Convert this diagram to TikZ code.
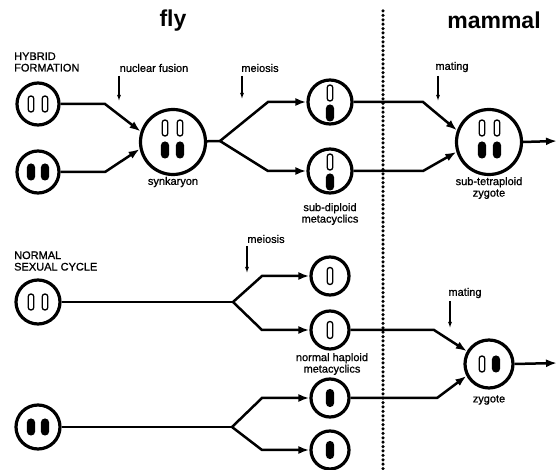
\documentclass[tikz,border=0pt]{standalone}
\usepackage{fontspec}
\setmainfont{Liberation Sans}
\newfontfamily\lblfont{Liberation Sans}[FakeBold=0.9]
\usetikzlibrary{arrows.meta}
\begin{document}
\begin{tikzpicture}[x=1pt,y=-1pt,
  cell/.style={circle, draw, line width=3.2pt, inner sep=0pt, minimum size=#1},
  chrO/.style={draw, line width=1.3pt, rectangle, rounded corners=2.7pt, inner sep=0pt, minimum width=5.6pt, minimum height=#1},
  chrF/.style={fill, rectangle, rounded corners=3.9pt, inner sep=0pt, minimum width=8.2pt, minimum height=#1},
  conn/.style={line width=2.5pt, line join=miter},
  tip/.style={-{Latex[length=11pt,width=8pt]}},
  note/.style={line width=1.1pt, -{Latex[length=6pt,width=4pt]}},
  lbl/.style={font=\lblfont\fontsize{11}{11.5}\selectfont, align=center, inner sep=0pt},
  ttl/.style={font=\fontsize{23}{24}\selectfont\bfseries, inner sep=0pt}
]
\useasboundingbox (0,0) rectangle (558,470);

% titles
\node[ttl] (tfly) at (173,21) {fly};
\node[ttl] (tmam) at (494,20) {mammal};

% divider
\coordinate (dtop) at (383,11);
\coordinate (dbot) at (383,470);
\foreach \yy in {11,15.4,...,470} \fill (383,\yy) circle (1.75pt);

% ---------- hybrid formation ----------
\node[lbl, align=left, anchor=west] (hyb) at (14,62) {HYBRID\\FORMATION};
\node[lbl] (nf) at (154,68) {nuclear fusion};
\node[lbl] (me1) at (260,68) {meiosis};
\node[lbl] (ma1) at (452,67) {mating};
\coordinate (nfa) at (119,76); \coordinate (nfb) at (119,101);
\coordinate (m1a) at (242,76); \coordinate (m1b) at (242,99);
\coordinate (ma1a) at (438,76); \coordinate (ma1b) at (438,101);
\draw[note] (nfa) -- (nfb);
\draw[note] (m1a) -- (m1b);
\draw[note] (ma1a) -- (ma1b);

\node[cell=42pt] (A1) at (38,104) {};
\node[chrO=16pt] (a1l) at (31,104) {};
\node[chrO=16pt] (a1r) at (45,104) {};

\node[cell=42pt] (A2) at (38,172) {};
\node[chrF=17pt] (a2l) at (31,172) {};
\node[chrF=17pt] (a2r) at (45,172) {};

\node[cell=65pt] (syn) at (173,142) {};
\node[chrO=16pt] (sy1) at (165,128) {};
\node[chrO=16pt] (sy2) at (180,128) {};
\node[chrF=17pt] (sy3) at (165,150) {};
\node[chrF=17pt] (sy4) at (180,150) {};
\node[lbl] (synl) at (173,182) {synkaryon};

\node[cell=44pt] (B1) at (330,102) {};
\node[chrO=16pt] (b1o) at (330,93) {};
\node[chrF=17pt] (b1f) at (330,113) {};

\node[cell=44pt] (B2) at (330,171) {};
\node[chrO=16pt] (b2o) at (330,162) {};
\node[chrF=17pt] (b2f) at (330,182) {};
\node[lbl] (sdl) at (330,214) {sub-diploid\\metacyclics};

\node[cell=65pt] (Z1) at (489,142) {};
\node[chrO=16pt] (z1a) at (482,128) {};
\node[chrO=16pt] (z1b) at (497,128) {};
\node[chrF=17pt] (z1c) at (482,150) {};
\node[chrF=17pt] (z1d) at (497,150) {};
\node[lbl] (stl) at (489,188) {sub-tetraploid\\zygote};
\coordinate (z1out) at (557,141);

\draw[conn,tip] (A1) -- (105,104) -- (syn.162);
\draw[conn,tip] (A2) -- (105,172) -- (syn.192);
\draw[conn] (syn) -- (220,141);
\draw[conn,tip] (220,141) -- (268,102) -- (B1);
\draw[conn,tip] (220,141) -- (268,171) -- (B2);
\draw[conn,tip] (B1) -- (423,102) -- (Z1.160);
\draw[conn,tip] (B2) -- (423,171) -- (Z1.197);
\draw[conn,tip] (Z1.east) -- (z1out);

% ---------- normal sexual cycle ----------
\node[lbl, align=left, anchor=west] (nsc) at (14,261) {NORMAL\\SEXUAL CYCLE};
\node[lbl] (me2) at (266,239) {meiosis};
\node[lbl] (ma2) at (465,293) {mating};
\coordinate (m2a) at (247,246); \coordinate (m2b) at (247,273);
\coordinate (ma2a) at (450,301); \coordinate (ma2b) at (450,328);
\draw[note] (m2a) -- (m2b);
\draw[note] (ma2a) -- (ma2b);

\node[cell=44pt] (C1) at (38,302) {};
\node[chrO=16pt] (c1l) at (31,302) {};
\node[chrO=16pt] (c1r) at (45,302) {};

\node[cell=44pt] (C2) at (38,427) {};
\node[chrF=17pt] (c2l) at (31,427) {};
\node[chrF=17pt] (c2r) at (45,427) {};

\node[cell=38pt] (D1) at (330,276) {};
\node[chrO=17pt] (d1c) at (330,276) {};
\node[cell=38pt] (D2) at (330,330) {};
\node[chrO=17pt] (d2c) at (330,330) {};
\node[lbl] (nhl) at (332,364) {normal haploid\\metacyclics};
\node[cell=38pt] (D3) at (330,398) {};
\node[chrF=18pt] (d3c) at (330,398) {};
\node[cell=38pt] (D4) at (330,450) {};
\node[chrF=18pt] (d4c) at (330,450) {};

\node[cell=48pt] (Z2) at (489,364) {};
\node[chrO=16pt] (z2a) at (482,364) {};
\node[chrF=17pt] (z2b) at (496,364) {};
\node[lbl] (zyl) at (489,400) {zygote};
\coordinate (z2out) at (557,363);

\draw[conn] (C1) -- (233,302);
\draw[conn,tip] (233,302) -- (262,276) -- (D1);
\draw[conn,tip] (233,302) -- (262,330) -- (D2);
\draw[conn] (C2) -- (232,427);
\draw[conn,tip] (232,427) -- (262,398) -- (D3);
\draw[conn,tip] (232,427) -- (262,450) -- (D4);
\draw[conn,tip] (D2) -- (434,330) -- (Z2.150);
\draw[conn,tip] (D3) -- (437,398) -- (Z2.208);
\draw[conn,tip] (Z2.east) -- (z2out);
\end{tikzpicture}
\end{document}
